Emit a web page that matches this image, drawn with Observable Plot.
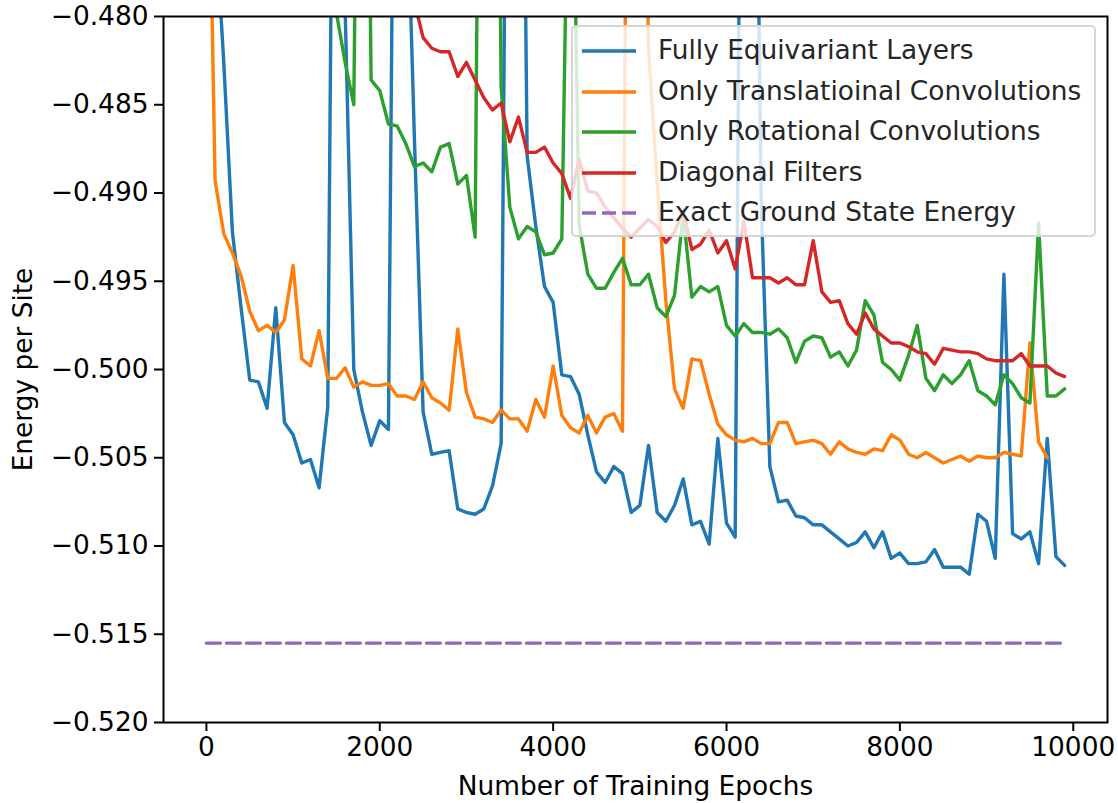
<!DOCTYPE html>
<html>
<head>
<meta charset="utf-8">
<script src="https://cdn.jsdelivr.net/npm/d3@7"></script>
<script src="https://cdn.jsdelivr.net/npm/@observablehq/plot@0.6"></script>
<style>
  html, body { margin: 0; padding: 0; background: #fff; }
  #wrap { position: relative; width: 1118px; height: 803px; font-family: "DejaVu Sans", sans-serif; }
  #legend { position: absolute; left: 571px; top: 25px; width: 525px; height: 212px;
            background: rgba(255,255,255,0.8); border: 2px solid rgba(204,204,204,0.8);
            border-radius: 5px; box-sizing: border-box; }
  .row { position: absolute; left: 0; height: 0; }
  .row svg { position: absolute; left: 9px; top: -6px; }
  .row span { position: absolute; left: 85px; top: -16px; font-size: 26.4px; line-height: 30px; white-space: nowrap; color: #262626; }
</style>
</head>
<body>
<div id="wrap"></div>
<script>
const epochs = [0,100,200,300,400,500,600,700,800,900,1000,1100,1200,1300,1400,1500,1600,1700,1800,1900,
  2000,2100,2200,2300,2400,2500,2600,2700,2800,2900,3000,3100,3200,3300,3400,3500,3600,3700,3800,3900,
  4000,4100,4200,4300,4400,4500,4600,4700,4800,4900,5000,5100,5200,5300,5400,5500,5600,5700,5800,5900,
  6000,6100,6200,6300,6400,6500,6600,6700,6800,6900,7000,7100,7200,7300,7400,7500,7600,7700,7800,7900,
  8000,8100,8200,8300,8400,8500,8600,8700,8800,8900,9000,9100,9200,9300,9400,9500,9600,9700,9800,9900];

const fullyEquivariant = [-0.4550,-0.4742,-0.4826,-0.4922,-0.4965,-0.5006,-0.5007,-0.5022,-0.4965,-0.5030,
  -0.5037,-0.5053,-0.5051,-0.5067,-0.5021,-0.4400,-0.4795,-0.5000,-0.5024,-0.5043,
  -0.5029,-0.5034,-0.4450,-0.4700,-0.4870,-0.5024,-0.5048,-0.5047,-0.5046,-0.5079,
  -0.5081,-0.5082,-0.5079,-0.5066,-0.5042,-0.4400,-0.4400,-0.4879,-0.4919,-0.4953,
  -0.4962,-0.5003,-0.5004,-0.5014,-0.5037,-0.5058,-0.5064,-0.5055,-0.5059,-0.5081,
  -0.5077,-0.5043,-0.5081,-0.5086,-0.5077,-0.5062,-0.5088,-0.5086,-0.5099,-0.5039,
  -0.5087,-0.5095,-0.4400,-0.4500,-0.4905,-0.5055,-0.5075,-0.5074,-0.5083,-0.5084,
  -0.5088,-0.5088,-0.5092,-0.5096,-0.5100,-0.5098,-0.5092,-0.5101,-0.5092,-0.5107,
  -0.5104,-0.5110,-0.5110,-0.5109,-0.5102,-0.5112,-0.5112,-0.5112,-0.5116,-0.5082,
  -0.5086,-0.5107,-0.4946,-0.5093,-0.5096,-0.5092,-0.5110,-0.5039,-0.5106,-0.5111];

const onlyTranslational = [-0.4620,-0.4893,-0.4923,-0.4934,-0.4947,-0.4967,-0.4978,-0.4975,-0.4979,-0.4972,
  -0.4941,-0.4994,-0.4998,-0.4978,-0.5005,-0.5005,-0.4999,-0.5010,-0.5007,-0.5009,
  -0.5009,-0.5008,-0.5015,-0.5015,-0.5017,-0.5007,-0.5016,-0.5019,-0.5023,-0.4977,
  -0.5013,-0.5027,-0.5028,-0.5030,-0.5023,-0.5028,-0.5028,-0.5035,-0.5017,-0.5027,
  -0.4998,-0.5026,-0.5033,-0.5036,-0.5026,-0.5036,-0.5027,-0.5025,-0.5035,-0.4300,
  -0.4500,-0.4818,-0.4894,-0.4961,-0.5011,-0.5022,-0.4994,-0.4995,-0.5014,-0.5031,
  -0.5037,-0.5040,-0.5041,-0.5039,-0.5042,-0.5042,-0.5030,-0.5030,-0.5042,-0.5041,
  -0.5040,-0.5042,-0.5048,-0.5041,-0.5045,-0.5047,-0.5048,-0.5045,-0.5046,-0.5037,
  -0.5040,-0.5048,-0.5050,-0.5047,-0.5050,-0.5053,-0.5051,-0.5049,-0.5052,-0.5049,
  -0.5050,-0.5050,-0.5047,-0.5048,-0.5049,-0.4985,-0.5041,-0.5050];

const onlyRotational = [-0.4500,-0.4500,-0.4500,-0.4500,-0.4500,-0.4500,-0.4500,-0.4500,-0.4500,-0.4500,
  -0.4500,-0.4500,-0.4500,-0.4500,-0.4500,-0.4798,-0.4826,-0.4850,-0.4400,-0.4836,
  -0.4842,-0.4861,-0.4862,-0.4872,-0.4885,-0.4883,-0.4888,-0.4874,-0.4872,-0.4895,
  -0.4890,-0.4925,-0.4300,-0.4300,-0.4840,-0.4908,-0.4926,-0.4919,-0.4922,-0.4935,
  -0.4934,-0.4926,-0.4620,-0.4918,-0.4946,-0.4954,-0.4954,-0.4945,-0.4937,-0.4952,
  -0.4952,-0.4946,-0.4965,-0.4970,-0.4958,-0.4912,-0.4959,-0.4953,-0.4956,-0.4953,
  -0.4975,-0.4981,-0.4974,-0.4979,-0.4979,-0.4980,-0.4977,-0.4982,-0.4996,-0.4984,
  -0.4981,-0.4982,-0.4993,-0.4990,-0.4998,-0.4989,-0.4961,-0.4969,-0.4996,-0.5000,
  -0.5006,-0.4992,-0.4975,-0.5005,-0.5012,-0.5003,-0.5008,-0.5003,-0.4995,-0.5012,
  -0.5015,-0.5020,-0.5003,-0.5008,-0.5016,-0.5019,-0.4917,-0.5015,-0.5015,-0.5011];

const diagonalFilters = [-0.4700,-0.4700,-0.4700,-0.4700,-0.4700,-0.4700,-0.4700,-0.4700,-0.4700,-0.4700,
  -0.4700,-0.4700,-0.4700,-0.4700,-0.4700,-0.4700,-0.4700,-0.4700,-0.4700,-0.4700,
  -0.4700,-0.4700,-0.4700,-0.4700,-0.4792,-0.4812,-0.4818,-0.4820,-0.4820,-0.4834,
  -0.4826,-0.4836,-0.4846,-0.4853,-0.4849,-0.4871,-0.4857,-0.4877,-0.4877,-0.4874,
  -0.4883,-0.4889,-0.4903,-0.4881,-0.4899,-0.4900,-0.4908,-0.4914,-0.4920,-0.4925,
  -0.4920,-0.4915,-0.4919,-0.4928,-0.4922,-0.4910,-0.4932,-0.4929,-0.4921,-0.4934,
  -0.4927,-0.4943,-0.4916,-0.4948,-0.4948,-0.4948,-0.4951,-0.4948,-0.4952,-0.4952,
  -0.4927,-0.4956,-0.4962,-0.4961,-0.4974,-0.4980,-0.4968,-0.4977,-0.4981,-0.4985,
  -0.4985,-0.4987,-0.4990,-0.4991,-0.4997,-0.4988,-0.4989,-0.4990,-0.4990,-0.4991,
  -0.4994,-0.4995,-0.4995,-0.4995,-0.4991,-0.4998,-0.4998,-0.4998,-0.5002,-0.5004];

const exactEnergy = -0.5155;
const exactSpan = [0, 9900];

const seriesNames = ["Fully Equivariant Layers", "Only Translatioinal Convolutions",
  "Only Rotational Convolutions", "Diagonal Filters", "Exact Ground State Energy"];
const seriesColors = ["#1f77b4", "#ff7f0e", "#2ca02c", "#d62728", "#9467bd"];
const seriesValues = [fullyEquivariant, onlyTranslational, onlyRotational, diagonalFilters];

const xTicks = [0, 2000, 4000, 6000, 8000, 10000];
const yTicks = [-0.520, -0.515, -0.510, -0.505, -0.500, -0.495, -0.490, -0.485, -0.480];

const rows = seriesValues.map((vals, k) =>
  vals.map((v, i) => ({epoch: epochs[i], energy: v, series: seriesNames[k]})));
const exactRows = exactSpan.map(e => ({epoch: e, energy: exactEnergy}));

const lineMarks = rows.map((r, k) => Plot.lineY(r, {
  x: "epoch", y: "energy", stroke: seriesColors[k], strokeWidth: 3.4, clip: true
}));

const chart = Plot.plot({
  width: 1118,
  height: 803,
  marginLeft: 163,
  marginRight: 11,
  marginTop: 16,
  marginBottom: 81,
  style: {fontFamily: "DejaVu Sans", fontSize: "26.4px", color: "#000", background: "#fff"},
  x: {domain: [-495, 10395]},
  y: {domain: [-0.520, -0.480]},
  marks: [
    ...lineMarks,
    Plot.lineY(exactRows, {x: "epoch", y: "energy", stroke: seriesColors[4], strokeWidth: 3.4,
      strokeDasharray: "14,6", clip: true}),
    Plot.frame({stroke: "#000", strokeWidth: 2}),
    Plot.axisX({ticks: xTicks, tickFormat: d3.format("d"), tickSize: 9, tickPadding: 6,
      strokeWidth: 2, fontSize: 26.4, label: "Number of Training Epochs", labelAnchor: "center",
      labelArrow: "none", labelOffset: 72}),
    Plot.axisY({ticks: yTicks, tickFormat: d3.format(".3f"), tickSize: 9, tickPadding: 6,
      strokeWidth: 2, fontSize: 26.4, label: "Energy per Site", labelAnchor: "center",
      labelArrow: "none", labelOffset: 150})
  ]
});

const wrap = document.getElementById("wrap");
wrap.appendChild(chart);

const legend = document.createElement("div");
legend.id = "legend";
const rowTops = [24, 65, 105, 146, 186];
seriesNames.forEach((name, k) => {
  const row = document.createElement("div");
  row.className = "row";
  row.style.top = rowTops[k] + "px";
  const dash = k === 4 ? ' stroke-dasharray="14,6"' : '';
  row.innerHTML = `<svg width="56" height="12"><line x1="0" x2="54" y1="6" y2="6" stroke="${seriesColors[k]}" stroke-width="3.4"${dash}/></svg><span>${name}</span>`;
  legend.appendChild(row);
});
wrap.appendChild(legend);
</script>
</body>
</html>
